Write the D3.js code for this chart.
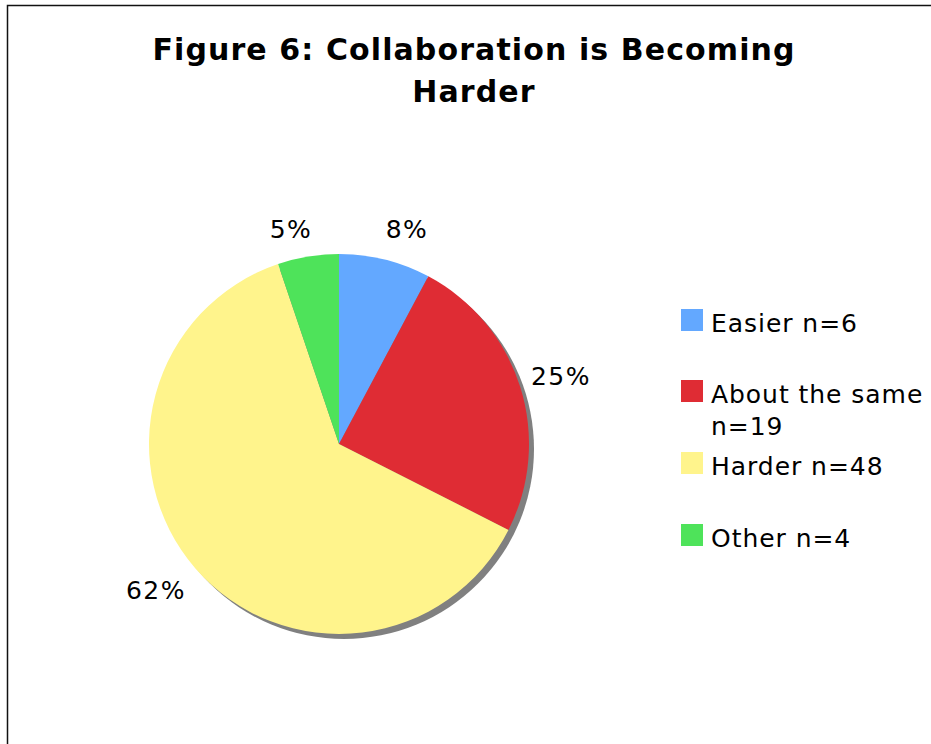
<!DOCTYPE html>
<html>
<head>
<meta charset="utf-8">
<script src="https://cdn.jsdelivr.net/npm/d3@7/dist/d3.min.js"></script>
<style>
  html, body { margin: 0; padding: 0; background: #fff; }
  svg { display: block; }
  text { font-family: Verdana, "DejaVu Sans", sans-serif; fill: #000; }
</style>
</head>
<body>
<svg id="chart" width="931" height="744"></svg>
<script>
// Survey responses
const categories = ["Easier", "About the same", "Harder", "Other"];
const counts = [6, 19, 48, 4];
const percentLabels = ["8%", "25%", "62%", "5%"];
const legendLines = [["Easier n=6"], ["About the same", "n=19"], ["Harder n=48"], ["Other n=4"]];
const sliceColors = ["#63a8ff", "#df2c34", "#fff48c", "#4ee35a"];
const titleLines = ["Figure 6: Collaboration is Becoming", "Harder"];

const svg = d3.select("#chart");
const W = 931, H = 744;

// Frame (runs past the right and bottom edges)
svg.append("rect").attr("x", 7.5).attr("y", 5.5).attr("width", W + 20).attr("height", H + 20)
  .attr("fill", "#fff").attr("stroke", "#111").attr("stroke-width", 1.5);

// Title
svg.append("g").selectAll("text").data(titleLines).join("text")
  .attr("x", 474)
  .attr("y", (d, i) => 60 + i * 42)
  .attr("text-anchor", "middle")
  .attr("font-weight", "bold")
  .attr("font-size", 30)
  .attr("letter-spacing", 1.1)
  .text(d => d);

// Pie
const cx = 339, cy = 444, r = 190;
const pie = d3.pie().sort(null).value(d => d);
const arcs = pie(counts);
const arc = d3.arc().innerRadius(0).outerRadius(r);

const g = svg.append("g").attr("transform", `translate(${cx},${cy})`);

// drop shadow behind the disc
g.append("circle").attr("cx", 5).attr("cy", 5).attr("r", r).attr("fill", "#808080");

g.selectAll("path.slice").data(arcs).join("path")
  .attr("class", "slice")
  .attr("d", arc)
  .attr("fill", (d, i) => sliceColors[i]);

// Percentage labels outside the pie
const labelPos = [
  { x: 407, y: 238 },
  { x: 561, y: 385 },
  { x: 156, y: 599 },
  { x: 291, y: 238 }
];
svg.append("g").selectAll("text").data(arcs).join("text")
  .attr("x", (d, i) => labelPos[i].x)
  .attr("y", (d, i) => labelPos[i].y)
  .attr("text-anchor", "middle")
  .attr("font-size", 25)
  .attr("letter-spacing", 1.5)
  .text((d, i) => percentLabels[i]);

// Legend
const legendY = [309, 380, 452, 524];
const legend = svg.append("g");
categories.forEach((c, i) => {
  legend.append("rect")
    .attr("x", 681).attr("y", legendY[i])
    .attr("width", 22).attr("height", 22)
    .attr("fill", sliceColors[i]);
  legend.append("text")
    .attr("x", 711).attr("y", legendY[i] + 23)
    .attr("font-size", 25)
    .attr("letter-spacing", 0.95)
    .selectAll("tspan").data(legendLines[i]).join("tspan")
    .attr("x", 711)
    .attr("dy", (d, j) => j === 0 ? 0 : 32)
    .text(d => d);
});
</script>
</body>
</html>
